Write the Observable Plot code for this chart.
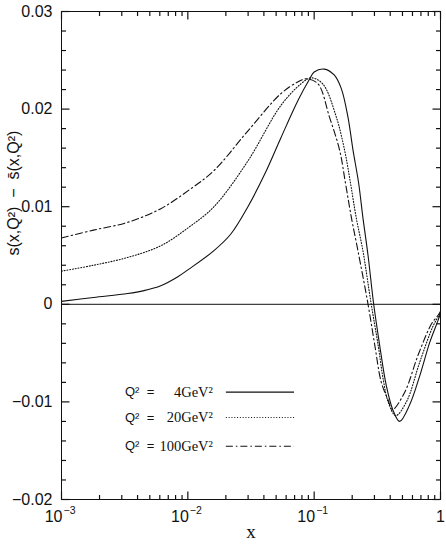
<!DOCTYPE html>
<html>
<head>
<meta charset="utf-8">
<script src="https://cdn.jsdelivr.net/npm/d3@7"></script>
<script src="https://cdn.jsdelivr.net/npm/@observablehq/plot@0.6"></script>
<style>
  body { margin: 0; background: #fff; overflow: hidden; }
  #chart svg { display: block; }
  g[aria-label="y-label"] text { letter-spacing: 1px; }
</style>
</head>
<body>
<div id="chart"></div>
<script>
// s(x,Q²) − s̄(x,Q²) at three scales
const x4   = [0.001, 0.00179, 0.00334, 0.0045, 0.00611, 0.00828, 0.0102, 0.0161, 0.0219, 0.0299, 0.0408, 0.0547, 0.0746, 0.0913, 0.100, 0.120, 0.144, 0.164, 0.185, 0.203, 0.225, 0.243, 0.267, 0.296, 0.330, 0.372, 0.422, 0.475, 0.570, 0.686, 0.822, 0.960, 1.0];
const s4   = [0.0003, 0.0007, 0.0011, 0.0014, 0.0019, 0.0028, 0.0036, 0.0055, 0.0072, 0.0100, 0.0134, 0.0171, 0.0209, 0.0230, 0.0238, 0.0241, 0.0235, 0.0221, 0.0192, 0.0158, 0.0124, 0.0089, 0.0050, 0.0000, -0.0042, -0.0083, -0.0109, -0.0120, -0.0103, -0.0073, -0.0039, -0.0016, -0.0009];

const x20  = [0.001, 0.00179, 0.00334, 0.00611, 0.0102, 0.0161, 0.0296, 0.0547, 0.0788, 0.0946, 0.1167, 0.1496, 0.174, 0.194, 0.215, 0.243, 0.283, 0.321, 0.351, 0.385, 0.442, 0.537, 0.686, 0.875, 0.977, 1.0];
const s20  = [0.0034, 0.0040, 0.0048, 0.0060, 0.0079, 0.0100, 0.0146, 0.0204, 0.0226, 0.0232, 0.0226, 0.0192, 0.0158, 0.0124, 0.0089, 0.0055, 0.0000, -0.0042, -0.0076, -0.0100, -0.0114, -0.0100, -0.0059, -0.0022, -0.0011, -0.0008];

const x100 = [0.001, 0.00179, 0.00334, 0.00611, 0.0102, 0.0161, 0.0296, 0.0547, 0.0746, 0.0865, 0.107, 0.132, 0.159, 0.177, 0.197, 0.222, 0.267, 0.302, 0.340, 0.385, 0.416, 0.521, 0.665, 0.849, 0.960, 1.0];
const s100 = [0.0068, 0.0076, 0.0084, 0.0098, 0.0117, 0.0137, 0.0177, 0.0216, 0.0228, 0.0231, 0.0226, 0.0192, 0.0158, 0.0124, 0.0089, 0.0055, 0.0000, -0.0042, -0.0080, -0.0098, -0.0108, -0.0090, -0.0052, -0.0020, -0.0011, -0.0007];

const seriesLabels = ["4GeV²", "20GeV²", "100GeV²"];

// axis ticks
const xMajor = [1e-3, 1e-2, 1e-1, 1];
const xExponents = ["−3", "−2", "−1", ""];
const yMajor = [-0.02, -0.01, 0, 0.01, 0.02, 0.03];
const yLabels = ["−0.02", "−0.01", "0", "0.01", "0.02", "0.03"];

const xMinor = [];
for (const d of [1e-3, 1e-2, 1e-1]) for (let k = 2; k <= 9; ++k) xMinor.push(k * d);
const yMinor = d3.range(-10, 16).map(i => i / 500).filter(v => Math.abs(Math.round(v * 100) - v * 100) > 1e-6);

const INK = "#111";
const sans = "'Liberation Sans', Arial, Helvetica, sans-serif";
const serif = "'Liberation Serif', 'Times New Roman', serif";

// plot geometry
const W = 446, H = 546;
const M = {top: 11, right: 6, bottom: 47, left: 61};
const frameW = W - M.left - M.right;
const frameH = H - M.top - M.bottom;
const xDomain = [1e-3, 1], yDomain = [-0.02, 0.03];
const yPerPx = (yDomain[1] - yDomain[0]) / frameH;
const decadesPerPx = Math.log10(xDomain[1] / xDomain[0]) / frameW;

const series = [
  {x: x4,   y: s4,   label: seriesLabels[0], dash: null},
  {x: x20,  y: s20,  label: seriesLabels[1], dash: "1,1.8"},
  {x: x100, y: s100, label: seriesLabels[2], dash: "7,3,1.5,3"}
];

// legend placement (data units inside the frame)
const legend = {qx: 0.00318, textX: 0.0158, x1: 0.02, x2: 0.0693, rowY: [-0.0090, -0.0116, -0.01455]};

const curveMarks = series.map(s =>
  Plot.line(s.x.map((xv, i) => ({x: xv, y: s.y[i]})), {
    x: "x", y: "y", curve: "catmull-rom",
    stroke: INK, strokeWidth: 1.1, strokeDasharray: s.dash
  })
);

const legendMarks = series.flatMap((s, i) => {
  const row = [{label: s.label, y: legend.rowY[i]}];
  return [
    Plot.text(row, {x: legend.qx, y: "y", text: () => "Q²  =", textAnchor: "start",
      fontFamily: sans, fontSize: 13, fill: INK}),
    Plot.text(row, {x: legend.textX, y: "y", text: "label", textAnchor: "end",
      fontFamily: serif, fontSize: 14.5, fill: INK}),
    Plot.link(row, {x1: legend.x1, x2: legend.x2, y1: "y", y2: "y",
      stroke: INK, strokeWidth: 1.1, strokeDasharray: s.dash})
  ];
});

// inward ticks on all four sides, as short segments from the frame edge
const tickRows = [];
const addX = (values, len) => values.forEach(v => {
  tickRows.push({x1: v, x2: v, y1: yDomain[0], y2: yDomain[0] + len * yPerPx});
  tickRows.push({x1: v, x2: v, y1: yDomain[1], y2: yDomain[1] - len * yPerPx});
});
const addY = (values, len) => values.forEach(v => {
  tickRows.push({y1: v, y2: v, x1: xDomain[0], x2: xDomain[0] * 10 ** (len * decadesPerPx)});
  tickRows.push({y1: v, y2: v, x1: xDomain[1], x2: xDomain[1] / 10 ** (len * decadesPerPx)});
});
addX(xMajor, 8); addX(xMinor, 4.5); addY(yMajor, 8); addY(yMinor, 4.5);

const chart = Plot.plot({
  width: W,
  height: H,
  marginTop: M.top,
  marginRight: M.right,
  marginBottom: M.bottom,
  marginLeft: M.left,
  style: {background: "#fff", color: INK, fontFamily: sans},
  x: {type: "log", domain: xDomain, axis: null},
  y: {domain: yDomain, axis: null},
  marks: [
    // tick labels
    Plot.text(yMajor, {y: d => d, frameAnchor: "left", dx: -9, textAnchor: "end",
      text: (d, i) => yLabels[i], fontSize: 16, fontFamily: sans, fill: INK}),
    Plot.text(xMajor.slice(0, 3), {x: d => d, frameAnchor: "bottom", dx: 1, dy: 22.5,
      lineAnchor: "bottom", textAnchor: "end", text: () => "10", fontSize: 16, fontFamily: sans, fill: INK}),
    Plot.text(xMajor.slice(0, 3), {x: d => d, frameAnchor: "bottom", dx: 2, dy: 14,
      lineAnchor: "bottom", textAnchor: "start", text: (d, i) => xExponents[i], fontSize: 10.5, fontFamily: sans, fill: INK}),
    Plot.text(xMajor.slice(3), {x: d => d, frameAnchor: "bottom", dy: 22.5,
      lineAnchor: "bottom", textAnchor: "middle", text: () => "1", fontSize: 16, fontFamily: sans, fill: INK}),

    // axis titles
    Plot.text(["x"], {frameAnchor: "bottom", dy: 38, lineAnchor: "bottom",
      fontFamily: serif, fontSize: 19, fill: INK}),
    Plot.text(["s(x,Q²)  −  s̄(x,Q²)"], {frameAnchor: "left", dx: -43, rotate: -90,
      lineAnchor: "bottom", fontFamily: sans, fontSize: 16, fill: INK, ariaLabel: "y-label"}),

    Plot.ruleY([0], {stroke: INK, strokeWidth: 1}),
    ...curveMarks,
    ...legendMarks,
    Plot.frame({stroke: INK, strokeWidth: 1}),
    Plot.link(tickRows, {x1: "x1", x2: "x2", y1: "y1", y2: "y2", stroke: INK, strokeWidth: 1.2})
  ]
});

document.getElementById("chart").appendChild(chart);
</script>
</body>
</html>
